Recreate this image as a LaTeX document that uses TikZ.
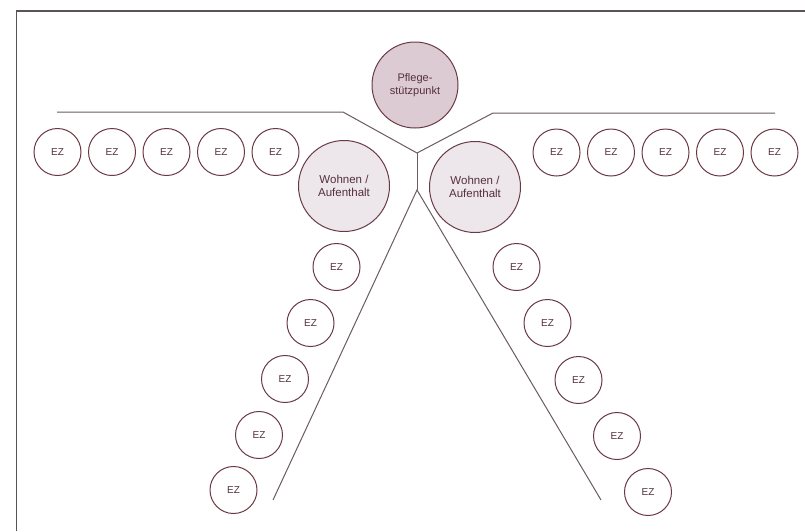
\documentclass[tikz,border=0pt]{standalone}
\usepackage{fontspec}
\setmainfont{Liberation Sans}
\definecolor{ring}{HTML}{6A3A44}
\definecolor{ink}{HTML}{55303A}
\definecolor{hubfill}{HTML}{DDCBD3}
\definecolor{roomfill}{HTML}{EDE7EB}
\definecolor{wall}{HTML}{6B5C60}
\definecolor{frame}{HTML}{5A5456}
\begin{document}
\begin{tikzpicture}[x=1pt,y=-1pt,
  ez/.style={circle,draw=ring,line width=1pt,minimum size=47pt,inner sep=0pt,
    text=ink,font=\fontsize{10}{12}\selectfont},
  hub/.style={circle,draw=ring,line width=1pt,fill=hubfill,minimum size=86pt,inner sep=0pt,
    text=ink,align=center,font=\fontsize{11}{13.5}\selectfont},
  room/.style={circle,draw=ring,line width=1pt,fill=roomfill,minimum size=91pt,inner sep=0pt,
    text=ink,align=center,font=\fontsize{11.5}{13.5}\selectfont},
  divider/.style={draw=wall,line width=1pt}]
\useasboundingbox (0,0) rectangle (805,531);
\fill[white] (0,0) rectangle (805,531);
% frame (top and left edges)
\draw[frame,line width=1.3pt] (16.5,531) -- (16.5,11) -- (805,11);

% dividing lines
\coordinate (a1) at (57,112);
\coordinate (a2) at (343,112);
\coordinate (j)  at (417,153);
\coordinate (b2) at (493,113);
\coordinate (b1) at (775,113);
\coordinate (k)  at (417,190);
\coordinate (cl) at (273,500);
\coordinate (cr) at (601,500);
\draw[divider] (a1) -- (a2) -- (j) -- (b2) -- (b1);
\draw[divider] (j) -- (k);
\draw[divider] (cl) -- (k) -- (cr);

% central nodes
\node[hub]  (pfl) at (415,85)  {Pflege-\\stützpunkt};
\node[room] (wl)  at (344,186) {Wohnen /\\Aufenthalt};
\node[room] (wr)  at (475,187) {Wohnen /\\Aufenthalt};

% single rooms, top left row
\foreach \i/\x in {1/57.5,2/112,3/166.5,4/221,5/275.5}
  \node[ez] (ezL\i) at (\x,152) {EZ};
% single rooms, top right row
\foreach \i/\x in {1/556.5,2/611,3/665.5,4/720,5/774.5}
  \node[ez] (ezR\i) at (\x,152.5) {EZ};
% single rooms, lower left wing
\foreach \i/\x/\y in {1/336.5/267,2/310.5/323,3/285/379,4/259/435,5/233.5/490}
  \node[ez] (ezDL\i) at (\x,\y) {EZ};
% single rooms, lower right wing
\foreach \i/\x/\y in {1/516.5/267,2/547.5/323,3/578.5/380,4/617/436,5/648/492}
  \node[ez] (ezDR\i) at (\x,\y) {EZ};
\end{tikzpicture}
\end{document}
